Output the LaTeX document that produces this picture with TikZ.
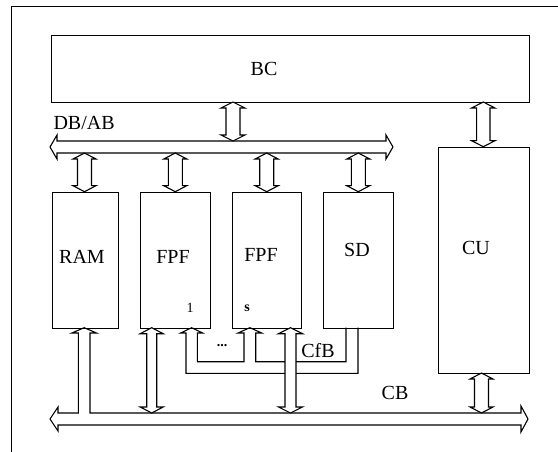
\documentclass[tikz,border=0pt]{standalone}
\usepackage{fontspec}
\setmainfont{Liberation Serif}
\begin{document}
\begin{tikzpicture}[x=1pt,y=-1pt,line width=1.1pt,line join=miter,
  box/.style={draw,inner sep=0pt,anchor=north west},
  lbl/.style={font=\fontsize{20}{22}\selectfont,inner sep=0pt},
  sml/.style={font=\fontsize{14}{15}\selectfont,inner sep=0pt},
  arr/.style={draw,fill=white}]
\newcommand\dblarr[5]{%
  \filldraw[arr] (#1,#2) -- (#1+#5,#2+6) -- (#1+#4,#2+6) -- (#1+#4,#3-6) -- (#1+#5,#3-6) -- (#1,#3)
    -- (#1-#5,#3-6) -- (#1-#4,#3-6) -- (#1-#4,#2+6) -- (#1-#5,#2+6) -- cycle;}
\useasboundingbox (0,0) rectangle (558,452);
% frame
\draw (558,6.7) -- (11.7,6.7) -- (11.7,452);
% boxes
\node[box,minimum width=477.7pt,minimum height=67pt] (bc) at (51,35) {};
\node[box,minimum width=90.8pt,minimum height=226.3pt] (cu) at (437.7,146.7) {};
\node[box,minimum width=66.6pt,minimum height=136pt] (ram) at (51.7,191.7) {};
\node[box,minimum width=70pt,minimum height=136pt] (fpfa) at (140,191.7) {};
\node[box,minimum width=69pt,minimum height=136pt] (fpfs) at (232,191.7) {};
\node[box,minimum width=69.4pt,minimum height=136pt] (sd) at (323.3,191.7) {};
% labels
\node[lbl] (tbc) at (264,68.5) {BC};
\node[lbl] (tcu) at (476,248) {CU};
\node[lbl] (tram) at (82,257) {RAM};
\node[lbl] (tfpfa) at (173,257) {FPF};
\node[lbl] (tfpfs) at (261,255) {FPF};
\node[lbl] (tsd) at (357,250) {SD};
\node[lbl,anchor=base west] (tdbab) at (53,129.3) {DB/AB};
\node[lbl] (tcfb) at (318,351) {CfB};
\node[lbl] (tcb) at (395,393) {CB};
\node[sml] (tone) at (190,308) {1};
\node[sml] (ts) at (247,308) {\textbf{s}};
\node[sml] (tdots) at (222,346) {\textbf{...}};
% DB/AB bus
\draw (57,141) -- (57,135) -- (50,147) -- (57,159) -- (57,153) -- (386,153) -- (386,159) -- (393,147) -- (386,135) -- (386,141) -- cycle;
% CB bus with RAM branch
\draw (521,413) -- (90,413) -- (90,333) -- (96.5,333) -- (84.2,327.7) -- (71.9,333) -- (78.3,333) -- (78.3,413)
  -- (58,413) -- (58,407) -- (50,419) -- (58,431) -- (58,425) -- (521,425) -- (521,432) -- (528,419) -- (521,406) -- cycle;
% CfB
\draw (358,327.7) -- (358,373.3) -- (186,373.3) -- (186,333) -- (180.7,333) -- (191.65,327.7) -- (202.6,333)
  -- (197.3,333) -- (197.3,361.7) -- (244,361.7) -- (244,333) -- (238,333) -- (249.85,327.7) -- (261.7,333)
  -- (255.7,333) -- (255.7,361.7) -- (346,361.7) -- (346,327.7);
% double arrows
\dblarr{233}{102}{141}{7}{12}
\dblarr{483.3}{102}{146.7}{6.7}{11.7}
\dblarr{84.5}{153}{191.7}{7}{11.5}
\dblarr{175.3}{153}{191.7}{7}{11.5}
\dblarr{266.7}{153}{191.7}{7}{11.5}
\dblarr{358.3}{153}{191.7}{7}{11.5}
\dblarr{151.7}{327.7}{413}{5}{11.5}
\dblarr{290.5}{327.7}{413}{5.5}{12}
\dblarr{481.5}{373}{413}{7}{11.5}
\end{tikzpicture}
\end{document}
